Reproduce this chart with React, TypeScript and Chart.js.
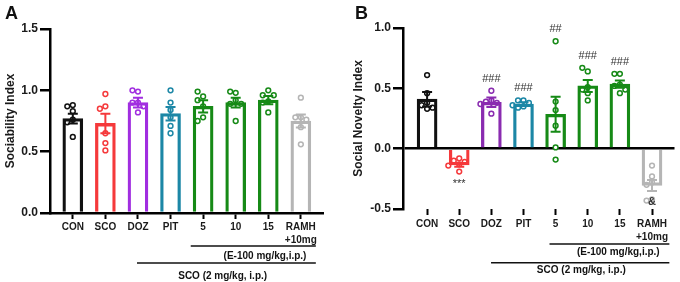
import React, { useEffect, useRef } from 'react';
import { Chart, registerables } from 'chart.js';

Chart.register(...registerables);

// ---------- data ----------
const tickLabels: (string | string[])[] = ['CON', 'SCO', 'DOZ', 'PIT', '5', '10', '15', ['RAMH', '+10mg']];

const colorsA = ['#111111', '#f5393b', '#a12ee0', '#1c87a6', '#168a16', '#168a16', '#168a16', '#b5b5b5'];
const colorsB = ['#111111', '#f5393b', '#8a2cb0', '#1c87a6', '#168a16', '#168a16', '#168a16', '#b5b5b5'];

const sociabilityMean = [0.77, 0.73, 0.90, 0.81, 0.87, 0.90, 0.92, 0.75];
const sociabilitySem = [0.04, 0.08, 0.04, 0.055, 0.05, 0.04, 0.033, 0.054];
const sociabilityPoints = [
  [0.88, 0.87, 0.83, 0.76, 0.74, 0.62],
  [0.97, 0.87, 0.85, 0.65, 0.57, 0.51],
  [0.99, 1.0, 0.90, 0.90, 0.87, 0.82],
  [1.0, 0.90, 0.84, 0.78, 0.71, 0.65],
  [0.95, 0.99, 0.92, 0.87, 0.78, 0.75],
  [0.98, 0.99, 0.92, 0.89, 0.89, 0.75],
  [1.0, 0.96, 0.96, 0.91, 0.90, 0.82],
  [0.94, 0.78, 0.78, 0.76, 0.70, 0.56],
];

const noveltyMean = [0.41, -0.135, 0.385, 0.37, 0.285, 0.52, 0.535, -0.305];
const noveltySem = [0.06, 0.015, 0.04, 0.015, 0.145, 0.05, 0.03, 0.045];
const noveltyPoints = [
  [0.61, 0.46, 0.38, 0.36, 0.34, 0.33],
  [-0.08, -0.10, -0.11, -0.13, -0.14, -0.19],
  [0.48, 0.40, 0.39, 0.38, 0.37, 0.29],
  [0.40, 0.40, 0.38, 0.36, 0.35, 0.34],
  [0.89, 0.39, 0.32, 0.19, 0.01, -0.09],
  [0.64, 0.67, 0.51, 0.49, 0.46, 0.40],
  [0.62, 0.62, 0.53, 0.52, 0.49, 0.46],
  [-0.14, -0.23, -0.28, -0.30, -0.42, -0.43],
];
const noveltyMarks = ['', '***', '###', '###', '##', '###', '###', '&'];
const sociabilityMarks = ['', '', '', '', '', '', '', ''];

const subLabelE = '(E-100 mg/kg,i.p.)';
const subLabelSCO = 'SCO (2 mg/kg, i.p.)';

const FONT = 'Arial, "Liberation Sans", Helvetica, sans-serif';

type Panel = {
  letter: string;
  title: string;
  means: number[];
  sems: number[];
  points: number[][];
  marks: string[];
  colors: string[];
  yMin: number;
  yMax: number;
  xMin: number;
  xMax: number;
  yWidth: number;
  xHeight: number;
  padTop: number;
  padRight: number;
  titlePad: number;
  tickPadX: number;
  zeroLine: boolean;
  xBorder: boolean;
  letterX: number;
  bracketE: [number, number, number, number, number]; // x0,x1,lineY,textX,textY
  bracketS: [number, number, number, number, number];
};

const panelA: Panel = {
  letter: 'A', title: 'Sociability Index',
  means: sociabilityMean, sems: sociabilitySem, points: sociabilityPoints, marks: sociabilityMarks,
  colors: colorsA, yMin: 0, yMax: 1.5, xMin: -0.7, xMax: 7.68,
  yWidth: 50, xHeight: 69, padTop: 29, padRight: 17, titlePad: 3, tickPadX: 1.5,
  zeroLine: false, xBorder: true, letterX: 5,
  bracketE: [3.62, 7.46, 246, 5.9, 256],
  bracketS: [1.97, 7.46, 263, 4.6, 276],
};

const panelB: Panel = {
  letter: 'B', title: 'Social Novelty Index',
  means: noveltyMean, sems: noveltySem, points: noveltyPoints, marks: noveltyMarks,
  colors: colorsB, yMin: -0.5, yMax: 1.0, xMin: -0.75, xMax: 7.7,
  yWidth: 63, xHeight: 73, padTop: 28, padRight: 3, titlePad: 11, tickPadX: 3,
  zeroLine: true, xBorder: false, letterX: 15,
  bracketE: [3.81, 7.54, 244, 5.95, 252],
  bracketS: [1.99, 7.54, 262.7, 4.8, 270],
};

// simple beeswarm offsets (in category units) so overlapping dots sit side by side
function swarm(vals: number[], pxPerUnitY: number, pxPerCat: number): number[] {
  const placed: { v: number; o: number }[] = [];
  const stepPx = 5.5;
  const cands = [0, -1, 1, -2, 2, -3, 3];
  return vals.map((v) => {
    for (const c of cands) {
      const o = c * stepPx;
      const hit = placed.some((p) => {
        const dx = p.o - o;
        const dy = (p.v - v) * pxPerUnitY;
        return Math.sqrt(dx * dx + dy * dy) < 5;
      });
      if (!hit) {
        placed.push({ v, o });
        return o / pxPerCat;
      }
    }
    return 0;
  });
}

function makeChart(canvas: HTMLCanvasElement, p: Panel) {
  const plotH = 282 - p.padTop - p.xHeight;
  const pxPerUnitY = plotH / (p.yMax - p.yMin);
  const pxPerCat = (340 - p.yWidth - p.padRight) / (p.xMax - p.xMin);

  const pts: { x: number; y: number }[] = [];
  const ptColors: string[] = [];
  p.points.forEach((vals, i) => {
    const offs = swarm(vals, pxPerUnitY, pxPerCat);
    vals.forEach((v, k) => {
      pts.push({ x: i + offs[k], y: v });
      ptColors.push(p.colors[i]);
    });
  });

  const plugin = {
    id: 'annot' + p.letter,
    afterDatasetDraw(chart: any, args: any) {
      if (args.index !== 0) return;
      const ctx = chart.ctx;
      const xs = chart.scales.x;
      const ys = chart.scales.y;
      p.means.forEach((m, i) => {
        const x = xs.getPixelForValue(i);
        const lo = ys.getPixelForValue(m - p.sems[i]);
        const hi = ys.getPixelForValue(m + p.sems[i]);
        ctx.save();
        ctx.strokeStyle = p.colors[i];
        ctx.lineWidth = 2;
        ctx.beginPath();
        ctx.moveTo(x, lo);
        ctx.lineTo(x, hi);
        ctx.moveTo(x - 5, lo);
        ctx.lineTo(x + 5, lo);
        ctx.moveTo(x - 5, hi);
        ctx.lineTo(x + 5, hi);
        ctx.stroke();
        ctx.restore();
      });
    },
    afterDraw(chart: any) {
      const ctx = chart.ctx;
      const xs = chart.scales.x;
      const ys = chart.scales.y;
      ctx.save();
      // panel letter
      ctx.fillStyle = '#111';
      ctx.font = `bold 18px ${FONT}`;
      ctx.textAlign = 'left';
      ctx.textBaseline = 'alphabetic';
      ctx.fillText(p.letter, p.letterX, 19);
      // brackets
      ctx.strokeStyle = '#111';
      ctx.lineWidth = 1.5;
      [p.bracketE, p.bracketS].forEach((b, j) => {
        ctx.beginPath();
        ctx.moveTo(xs.getPixelForValue(b[0]), b[2]);
        ctx.lineTo(xs.getPixelForValue(b[1]), b[2]);
        ctx.stroke();
        ctx.font = `bold 10px ${FONT}`;
        ctx.textAlign = 'center';
        ctx.textBaseline = 'middle';
        ctx.fillText(j === 0 ? subLabelE : subLabelSCO, xs.getPixelForValue(b[3]), b[4]);
      });
      // significance marks
      ctx.fillStyle = '#333';
      ctx.font = `11px ${FONT}`;
      ctx.textAlign = 'center';
      ctx.textBaseline = 'middle';
      p.marks.forEach((mk, i) => {
        if (!mk) return;
        const x = xs.getPixelForValue(i);
        const vals = p.points[i];
        let y: number;
        if (p.means[i] >= 0) {
          y = ys.getPixelForValue(Math.max(...vals)) - 12;
        } else if (mk === '&') {
          y = ys.getPixelForValue(Math.min(...vals)) + 1;
          ctx.font = `bold 11px ${FONT}`;
        } else {
          y = ys.getPixelForValue(Math.min(...vals)) + 12;
        }
        ctx.fillText(mk, x, y);
      });
      ctx.restore();
    },
  };

  return new Chart(canvas, {
    type: 'bar',
    data: {
      datasets: [
        {
          type: 'bar',
          data: p.means.map((m, i) => ({ x: i, y: m })),
          backgroundColor: 'rgba(255,255,255,0)',
          borderColor: p.colors,
          borderWidth: 2.6,
          borderSkipped: 'start',
          barThickness: 20,
        } as any,
        {
          type: 'scatter',
          data: pts,
          pointRadius: 2.4,
          pointBorderWidth: 1.5,
          pointBackgroundColor: '#ffffff',
          pointBorderColor: ptColors,
          showLine: false,
        } as any,
      ],
    },
    options: {
      responsive: false,
      animation: false,
      devicePixelRatio: 1,
      layout: { padding: { top: p.padTop, right: p.padRight, left: 0, bottom: 0 } },
      plugins: { legend: { display: false }, tooltip: { enabled: false } },
      scales: {
        x: {
          type: 'linear',
          offset: false,
          min: p.xMin,
          max: p.xMax,
          afterBuildTicks: (scale: any) => {
            scale.ticks = tickLabels.map((_, i) => ({ value: i }));
          },
          afterFit: (scale: any) => {
            scale.height = p.xHeight;
          },
          border: { display: p.xBorder, color: '#000', width: 2.5 },
          grid: {
            offset: false,
            drawOnChartArea: false,
            drawTicks: true,
            tickLength: 6,
            tickColor: '#000',
            tickWidth: 2,
            color: '#000',
          },
          ticks: {
            autoSkip: false,
            maxRotation: 0,
            padding: p.tickPadX,
            color: '#1a1a1a',
            font: { family: FONT, size: 10, weight: 'bold', lineHeight: 1.3 },
            callback: (v: any) => tickLabels[Math.round(Number(v))] as any,
          },
        },
        y: {
          type: 'linear',
          min: p.yMin,
          max: p.yMax,
          afterFit: (scale: any) => {
            scale.width = p.yWidth;
          },
          border: { display: true, color: '#000', width: 2.5 },
          grid: {
            drawOnChartArea: p.zeroLine,
            drawTicks: true,
            tickLength: 10,
            tickColor: '#000',
            tickWidth: 2.5,
            lineWidth: 2.5,
            color: (c: any) => (p.zeroLine && c.tick && c.tick.value === 0 ? '#000' : 'rgba(0,0,0,0)'),
          },
          ticks: {
            stepSize: 0.5,
            padding: 2,
            color: '#1a1a1a',
            font: { family: FONT, size: 12, weight: 'bold' },
            callback: (v: any) => Number(v).toFixed(1),
          },
          title: {
            display: true,
            text: p.title,
            color: '#1a1a1a',
            font: { family: FONT, size: 12, weight: 'bold' },
            padding: { top: p.titlePad, bottom: 0 },
          },
        },
      },
    } as any,
    plugins: [plugin],
  });
}

function PanelChart({ panel }: { panel: Panel }) {
  const ref = useRef<HTMLCanvasElement | null>(null);
  useEffect(() => {
    if (!ref.current) return;
    const chart = makeChart(ref.current, panel);
    return () => chart.destroy();
  }, [panel]);
  return <canvas ref={ref} width={340} height={282} style={{ display: 'block', width: 340, height: 282 }} />;
}

export default function App() {
  return (
    <div
      style={{
        position: 'absolute',
        left: 0,
        top: 0,
        width: 680,
        height: 282,
        display: 'flex',
        background: '#fff',
      }}
    >
      <PanelChart panel={panelA} />
      <PanelChart panel={panelB} />
    </div>
  );
}
